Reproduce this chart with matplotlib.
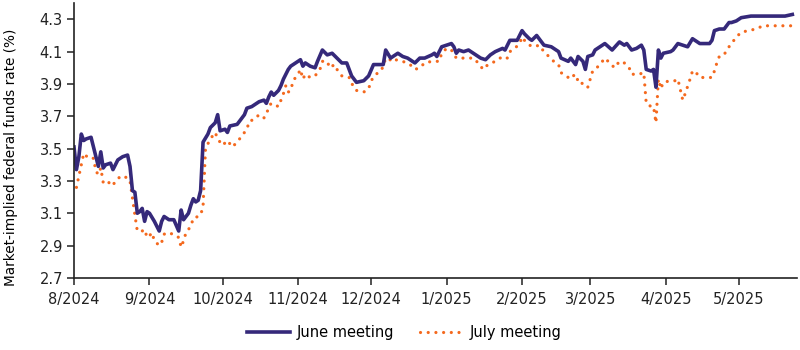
import pandas as pd
import matplotlib
matplotlib.use('Agg')
import matplotlib.pyplot as plt

# Days since 1 Aug 2024 and market-implied rate (%)
start_date = '2024-08-01'

june_days = [0, 1, 2, 3, 4, 5, 7, 9, 10, 11, 12, 13, 15, 16, 18, 20, 22, 23, 24, 25,
             26, 27, 28, 29, 30, 31, 33, 34, 35, 36, 37, 39, 41, 43, 44, 45, 47, 48, 49, 50,
             51, 52, 53, 55, 56, 58, 59, 60, 62, 63, 64, 67, 69, 70, 71, 73, 76, 78, 79, 80,
             81, 82, 84, 85, 86, 87, 88, 89, 92, 93, 94, 95, 97, 99, 100, 102, 104, 106, 108, 110,
             112, 114, 116, 119, 121, 123, 127, 128, 130, 133, 135, 137, 140, 142, 144, 147, 148, 149, 151, 153,
             155, 156, 157, 158, 160, 162, 165, 167, 169, 171, 173, 176, 177, 179, 182, 184, 185, 187, 188, 190,
             193, 196, 198, 199, 200, 203, 204, 206, 207, 209, 210, 211, 213, 214, 216, 218, 221, 224, 226, 227,
             229, 231, 233, 234, 235, 237, 238, 239, 240, 241, 242, 245, 246, 248, 250, 252, 254, 257, 261, 262,
             263, 265, 267, 269, 270, 272, 274, 278, 283, 288, 292, 295]
june_rate = [3.51, 3.37, 3.45, 3.59, 3.55, 3.56, 3.57, 3.45, 3.39, 3.48, 3.38, 3.40, 3.41, 3.37, 3.43, 3.45, 3.46, 3.39, 3.24, 3.23,
             3.10, 3.11, 3.13, 3.05, 3.11, 3.10, 3.05, 3.02, 2.99, 3.05, 3.08, 3.06, 3.06, 2.99, 3.12, 3.06, 3.10, 3.15, 3.19, 3.17,
             3.18, 3.24, 3.54, 3.59, 3.63, 3.66, 3.71, 3.61, 3.62, 3.60, 3.64, 3.65, 3.69, 3.71, 3.75, 3.76, 3.79, 3.80, 3.78, 3.82,
             3.85, 3.83, 3.86, 3.89, 3.93, 3.96, 3.99, 4.01, 4.04, 4.05, 4.01, 4.03, 4.01, 4.00, 4.04, 4.11, 4.08, 4.09, 4.06, 4.03,
             4.03, 3.95, 3.91, 3.92, 3.95, 4.02, 4.02, 4.11, 4.06, 4.09, 4.07, 4.06, 4.03, 4.06, 4.06, 4.08, 4.09, 4.07, 4.13, 4.14,
             4.15, 4.13, 4.09, 4.11, 4.10, 4.11, 4.08, 4.06, 4.05, 4.08, 4.10, 4.12, 4.11, 4.17, 4.17, 4.23, 4.21, 4.18, 4.17, 4.20,
             4.14, 4.13, 4.11, 4.10, 4.06, 4.04, 4.06, 4.02, 4.07, 4.04, 3.99, 4.07, 4.08, 4.11, 4.13, 4.15, 4.11, 4.16, 4.14, 4.15,
             4.11, 4.12, 4.14, 4.11, 3.99, 3.98, 3.99, 3.88, 4.11, 4.06, 4.09, 4.10, 4.11, 4.15, 4.14, 4.13, 4.18, 4.15, 4.15, 4.17,
             4.23, 4.24, 4.24, 4.28, 4.28, 4.29, 4.31, 4.32, 4.32, 4.32, 4.32, 4.33]

july_days = [1, 4, 6, 8, 9, 10, 11, 12, 14, 15, 17, 19, 22, 23, 25, 26, 28, 29, 30, 31,
             32, 33, 35, 36, 37, 38, 41, 43, 44, 45, 46, 47, 48, 49, 51, 52, 53, 54, 56, 58,
             59, 61, 63, 65, 67, 69, 71, 72, 74, 76, 78, 79, 80, 81, 84, 85, 86, 87, 88, 89,
             90, 92, 93, 94, 95, 97, 99, 101, 102, 104, 105, 107, 108, 110, 113, 114, 115, 116, 119, 121,
             122, 124, 126, 127, 128, 129, 130, 132, 135, 138, 140, 142, 144, 147, 150, 151, 153, 155, 157, 158,
             161, 164, 166, 168, 170, 173, 176, 178, 179, 181, 183, 184, 185, 187, 189, 191, 193, 195, 197, 199,
             200, 203, 205, 206, 207, 208, 209, 211, 212, 213, 214, 216, 218, 220, 222, 224, 226, 228, 229, 232,
             234, 235, 237, 238, 239, 240, 241, 242, 245, 247, 248, 250, 251, 253, 254, 255, 257, 260, 262, 263,
             264, 265, 267, 268, 270, 272, 274, 277, 280, 283, 286, 290, 293, 295]
july_rate = [3.26, 3.47, 3.44, 3.44, 3.36, 3.34, 3.38, 3.29, 3.30, 3.27, 3.29, 3.33, 3.32, 3.30, 3.09, 2.99, 2.99, 3.00, 2.95, 2.96,
             2.98, 2.93, 2.90, 2.92, 2.97, 2.98, 2.97, 2.95, 2.89, 2.93, 2.98, 3.00, 3.02, 3.07, 3.08, 3.09, 3.14, 3.50, 3.56, 3.60,
             3.56, 3.52, 3.55, 3.51, 3.54, 3.58, 3.62, 3.67, 3.68, 3.71, 3.69, 3.71, 3.76, 3.78, 3.76, 3.80, 3.84, 3.89, 3.85, 3.86,
             3.92, 3.96, 3.99, 3.93, 3.96, 3.94, 3.95, 3.99, 4.04, 4.04, 4.00, 4.02, 3.99, 3.95, 3.94, 3.90, 3.89, 3.86, 3.85, 3.87,
             3.92, 3.96, 3.98, 4.01, 4.06, 4.09, 4.04, 4.05, 4.04, 4.02, 3.99, 4.00, 4.03, 4.04, 4.04, 4.09, 4.12, 4.11, 4.06, 4.06,
             4.06, 4.06, 4.03, 3.99, 4.02, 4.04, 4.07, 4.06, 4.10, 4.12, 4.15, 4.19, 4.17, 4.14, 4.13, 4.14, 4.10, 4.07, 4.04, 4.02,
             3.97, 3.94, 3.96, 3.92, 3.93, 3.93, 3.89, 3.88, 3.93, 3.98, 3.99, 4.02, 4.06, 4.03, 4.00, 4.04, 4.03, 4.00, 3.96, 3.96,
             3.97, 3.78, 3.76, 3.76, 3.66, 3.93, 3.87, 3.91, 3.92, 3.92, 3.93, 3.80, 3.84, 3.93, 3.98, 3.98, 3.94, 3.94, 3.94, 3.98,
             4.03, 4.07, 4.08, 4.11, 4.15, 4.19, 4.22, 4.23, 4.24, 4.26, 4.26, 4.26, 4.26, 4.26]

month_ticks = ['2024-08-01', '2024-09-01', '2024-10-01', '2024-11-01', '2024-12-01',
               '2025-01-01', '2025-02-01', '2025-03-01', '2025-04-01', '2025-05-01']
month_labels = ['8/2024', '9/2024', '10/2024', '11/2024', '12/2024',
                '1/2025', '2/2025', '3/2025', '4/2025', '5/2025']
y_ticks = [2.7, 2.9, 3.1, 3.3, 3.5, 3.7, 3.9, 4.1, 4.3]

navy = '#35297a'
orange = '#f4691e'

plt.rcParams['font.family'] = ['DejaVu Sans']
plt.rcParams['font.size'] = 10.5

t0 = pd.Timestamp(start_date)
june_dates = t0 + pd.to_timedelta(june_days, unit='D')
july_dates = t0 + pd.to_timedelta(july_days, unit='D')

fig = plt.figure(figsize=(8, 3.5), dpi=100)
ax = fig.add_axes([0.0925, 0.206, 0.904, 0.785])

ax.plot(july_dates, july_rate, color=orange, linewidth=2.3,
        linestyle=(0, (0.01, 2.4)), dash_capstyle='round', label='July meeting')
ax.plot(june_dates, june_rate, color=navy, linewidth=2.6,
        solid_joinstyle='round', label='June meeting')

ax.set_xlim(t0, t0 + pd.Timedelta(days=297))
ax.set_ylim(2.7, 4.4)
ax.set_yticks(y_ticks)
ax.set_yticklabels([f'{v:.1f}' for v in y_ticks])
ax.set_xticks(pd.to_datetime(month_ticks))
ax.set_xticklabels(month_labels)

for side in ['top', 'right']:
    ax.spines[side].set_visible(False)
for side in ['left', 'bottom']:
    ax.spines[side].set_color('#222222')
    ax.spines[side].set_linewidth(1.2)
ax.tick_params(axis='both', colors='#222222', width=1.1, length=5, labelcolor='#222222')
ax.tick_params(axis='x', pad=5)
ax.tick_params(axis='y', pad=3)

ax.set_ylabel('Market-implied federal funds rate (%)', fontsize=9.8)
ax.yaxis.set_label_coords(-0.078, 0.44)

handles, labels = ax.get_legend_handles_labels()
fig.legend(handles[::-1], labels[::-1], loc='center', bbox_to_anchor=(0.505, 0.05),
           ncol=2, frameon=False, handlelength=3.0, columnspacing=1.8, handletextpad=0.4)

fig.savefig('out.png', dpi=100)
